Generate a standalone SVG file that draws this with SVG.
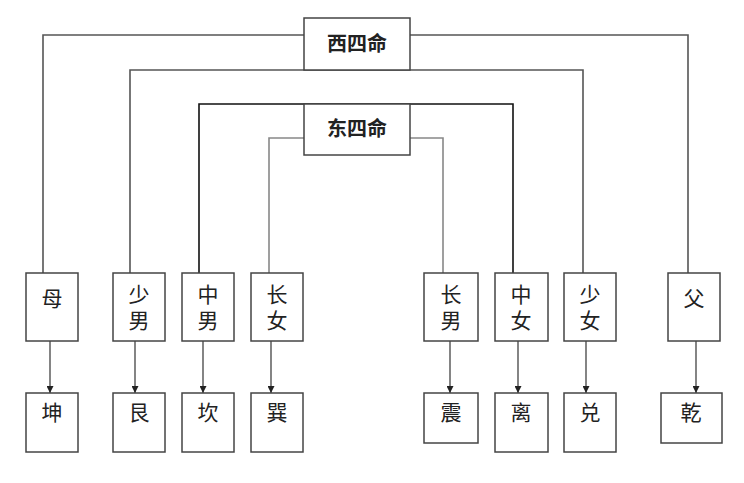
<svg xmlns="http://www.w3.org/2000/svg" width="744" height="483" viewBox="0 0 744 483">
<defs>
<style>
.box{fill:#fff;stroke:#444;stroke-width:1.5}
.t{font-family:"Noto Sans CJK SC","Noto Sans CJK TC",sans-serif;font-size:21px;fill:#222;text-anchor:middle}
.v{font-family:"Noto Sans CJK SC","Noto Sans CJK TC",sans-serif;font-size:21px;fill:#222;text-anchor:middle;writing-mode:vertical-rl;letter-spacing:5px}
.h{font-family:"Noto Sans CJK SC",sans-serif;font-size:20px;fill:#222;text-anchor:middle;font-weight:bold}
.c{fill:none;stroke-width:1.6}
.a{fill:none;stroke:#333;stroke-width:1.2;marker-end:url(#arr)}
</style>
<marker id="arr" viewBox="0 0 10 10" refX="10" refY="5" markerWidth="7" markerHeight="7" markerUnits="userSpaceOnUse" orient="auto">
<path d="M0,0 L10,5 L0,10 z" fill="#222"/>
</marker>
</defs>
<rect width="744" height="483" fill="#fff"/>
<g id="connectors">
<polyline class="c" stroke="#555" points="43,273 43,35 688,35 688,273"/>
<polyline class="c" stroke="#555" points="130,273 130,70 583,70 583,273"/>
<polyline class="c" stroke="#111" points="199,273 199,104 513,104 513,273"/>
<polyline class="c" stroke="#888" points="269,273 269,138 443,138 443,273"/>
<line class="a" x1="50" y1="341" x2="50" y2="393"/>
<line class="a" x1="135" y1="341" x2="135" y2="393"/>
<line class="a" x1="203" y1="341" x2="203" y2="393"/>
<line class="a" x1="271" y1="341" x2="271" y2="393"/>
<line class="a" x1="450" y1="341" x2="450" y2="393"/>
<line class="a" x1="518" y1="341" x2="518" y2="393"/>
<line class="a" x1="586" y1="341" x2="586" y2="393"/>
<line class="a" x1="696" y1="341" x2="696" y2="393"/>
</g>
<g id="west"><rect class="box" x="304" y="18" width="106" height="52"/><text class="h" x="357" y="51">西四命</text></g>
<g id="east"><rect class="box" x="304" y="104" width="106" height="51"/><text class="h" x="357" y="136">东四命</text></g>
<g id="mu"><rect class="box" x="26" y="273" width="52" height="68"/><text class="t" x="52" y="306">母</text></g>
<g id="shaonan"><rect class="box" x="113" y="273" width="52" height="68"/><text class="v" x="139" y="310">少男</text></g>
<g id="zhongnan"><rect class="box" x="182" y="273" width="52" height="68"/><text class="v" x="208" y="310">中男</text></g>
<g id="zhangnv"><rect class="box" x="251" y="273" width="52" height="68"/><text class="v" x="277" y="310">长女</text></g>
<g id="zhangnan"><rect class="box" x="424" y="273" width="54" height="68"/><text class="v" x="451" y="310">长男</text></g>
<g id="zhongnv"><rect class="box" x="495" y="273" width="53" height="68"/><text class="v" x="521" y="310">中女</text></g>
<g id="shaonv"><rect class="box" x="564" y="273" width="52" height="68"/><text class="v" x="590" y="310">少女</text></g>
<g id="fu"><rect class="box" x="668" y="273" width="52" height="68"/><text class="t" x="694" y="306">父</text></g>
<g id="kun"><rect class="box" x="26" y="393" width="52" height="59"/><text class="t" x="52" y="420">坤</text></g>
<g id="gen"><rect class="box" x="113" y="393" width="52" height="59"/><text class="t" x="139" y="420">艮</text></g>
<g id="kan"><rect class="box" x="182" y="393" width="52" height="59"/><text class="t" x="208" y="420">坎</text></g>
<g id="xun"><rect class="box" x="251" y="393" width="52" height="59"/><text class="t" x="277" y="420">巽</text></g>
<g id="zhen"><rect class="box" x="424" y="393" width="54" height="50"/><text class="t" x="451" y="420">震</text></g>
<g id="li"><rect class="box" x="495" y="393" width="53" height="59"/><text class="t" x="521" y="420">离</text></g>
<g id="dui"><rect class="box" x="564" y="393" width="52" height="59"/><text class="t" x="590" y="420">兑</text></g>
<g id="qian"><rect class="box" x="661" y="393" width="61" height="50"/><text class="t" x="691" y="420">乾</text></g>
</svg>
